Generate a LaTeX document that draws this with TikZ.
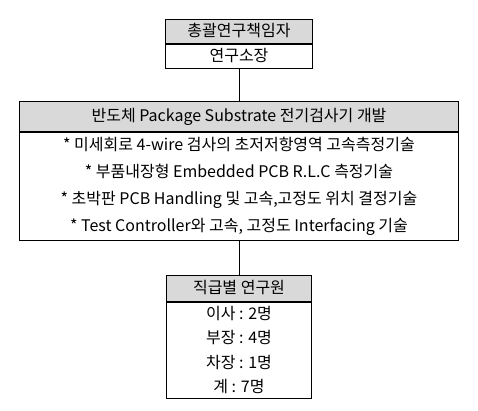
\documentclass[tikz,border=0pt]{standalone}
\usepackage{fontspec}
\setmainfont{Noto Sans CJK KR}
\usetikzlibrary{positioning}
\definecolor{headgray}{RGB}{217,217,217}

\begin{document}
\begin{tikzpicture}[x=1pt,y=-1pt,line width=0.8pt,node distance=0pt,
  font=\fontsize{16}{26.9}\selectfont,
  head/.style={draw,fill=headgray,inner sep=0pt,text height=12pt,text depth=2pt},
  body/.style={draw,fill=white,inner sep=0pt,align=center}]
  \useasboundingbox (0,0) rectangle (478,410);

  \node[head,minimum width=146.6pt,minimum height=24pt] (leadhead) at (239,31.3) {총괄연구책임자};
  \node[body,minimum width=146.6pt,minimum height=24pt,text height=12pt,text depth=2pt] (leadbody) [below=of leadhead] {연구소장};

  \node[head,minimum width=439.4pt,minimum height=30.4pt] (projhead) [below=32pt of leadbody] {반도체 Package Substrate 전기검사기 개발};
  \node[body,minimum width=439.4pt,minimum height=108.6pt] (projbody) [below=of projhead]
    {* 미세회로 4-wire 검사의 초저저항영역 고속측정기술\\
     * 부품내장형 Embedded PCB R.L.C 측정기술\\
     * 초박판 PCB Handling 및 고속,고정도 위치 결정기술\\
     * Test Controller와 고속, 고정도 Interfacing 기술};

  \node[head,minimum width=145.3pt,minimum height=26.6pt] (staffhead) [below=33.4pt of projbody] {직급별 연구원};
  \node[body,minimum width=145.3pt,minimum height=95.7pt,font=\fontsize{16}{24.5}\selectfont] (staffbody) [below=of staffhead]
    {이사 : 2명\\ 부장 : 4명\\ 차장 : 1명\\ 계 : 7명};

  \draw (leadbody) -- (projhead);
  \draw (projbody) -- (staffhead);
\end{tikzpicture}
\end{document}
